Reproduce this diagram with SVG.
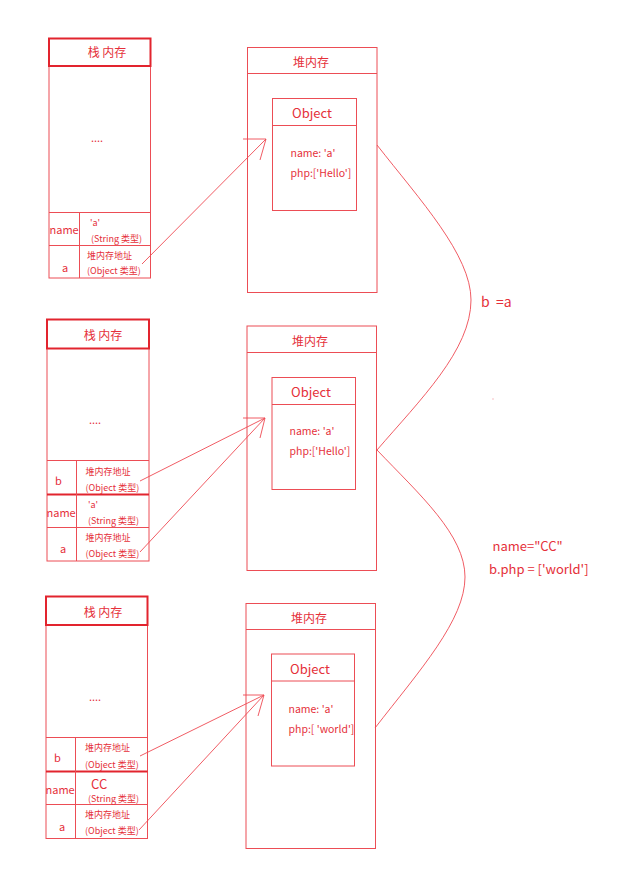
<svg xmlns="http://www.w3.org/2000/svg" width="630" height="878" viewBox="0 0 630 878">
  <style>
    .box { fill: none; stroke: #ec4d55; stroke-width: 1; }
    .hdr { fill: none; stroke: #e2242e; stroke-width: 2; }
    .ln { fill: none; stroke: #ee4a52; stroke-width: 0.9; }
    text { fill: #e5303a; font-family: "Microsoft YaHei", "Noto Sans CJK SC", "Liberation Sans", sans-serif; }
    .s9 { font-size: 9px; }
    .s10 { font-size: 10.5px; }
    .s11 { font-size: 11px; }
    .s12 { font-size: 12px; }
    .s13 { font-size: 13px; }
    .s14 { font-size: 14px; }
    .mid { text-anchor: middle; }
  </style>
  <rect width="630" height="878" fill="#ffffff"/>

  <!-- Stack frame 1 -->
  <g id="stack1">
    <rect class="box" x="49" y="38.5" width="101.5" height="239.5"/>
    <rect class="hdr" x="49" y="38.5" width="101.5" height="27.5"/>
    <text class="s12 mid" x="107" y="57">栈 内存</text>
    <text class="s11 mid" x="97" y="142">....</text>
    <line class="box" x1="49" y1="212.5" x2="150.5" y2="212.5"/>
    <line class="box" x1="49" y1="245.5" x2="150.5" y2="245.5"/>
    <line class="box" x1="79.5" y1="212.5" x2="79.5" y2="278"/>
    <text class="s11" x="49.5" y="234">name</text>
    <text class="s9" x="90" y="226">'a'</text>
    <text class="s9" x="91" y="242">(String 类型)</text>
    <text class="s11" x="62" y="272">a</text>
    <text class="s9" x="87" y="259">堆内存地址</text>
    <text class="s9" x="87" y="274">(Object 类型)</text>
  </g>

  <!-- Heap 1 -->
  <g id="heap1">
    <rect class="box" x="247.5" y="47.5" width="129.5" height="245"/>
    <line class="box" x1="247.5" y1="73.5" x2="377" y2="73.5"/>
    <text class="s12 mid" x="311" y="67">堆内存</text>
    <rect class="box" x="272.5" y="98.5" width="84" height="112"/>
    <line class="box" x1="272.5" y1="125.5" x2="356.5" y2="125.5"/>
    <text class="s13 mid" x="312" y="118">Object</text>
    <text class="s10" x="290.5" y="157">name: 'a'</text>
    <text class="s10" x="290.5" y="177">php:['Hello']</text>
  </g>

  <!-- Stack frame 2 -->
  <g id="stack2">
    <rect class="box" x="47" y="319.5" width="102" height="241.5"/>
    <rect class="hdr" x="47" y="319.5" width="102" height="29"/>
    <text class="s12 mid" x="103" y="340">栈 内存</text>
    <text class="s11 mid" x="95" y="424">....</text>
    <line class="box" x1="47" y1="460.5" x2="149" y2="460.5"/>
    <line class="hdr" x1="47" y1="494.5" x2="149" y2="494.5"/>
    <line class="box" x1="47" y1="527.5" x2="149" y2="527.5"/>
    <line class="box" x1="76.5" y1="460.5" x2="76.5" y2="561"/>
    <text class="s11" x="55" y="485">b</text>
    <text class="s9" x="85.5" y="475">堆内存地址</text>
    <text class="s9" x="85.5" y="491">(Object 类型)</text>
    <text class="s11" x="46.5" y="517">name</text>
    <text class="s9" x="88" y="508">'a'</text>
    <text class="s9" x="88" y="524">(String 类型)</text>
    <text class="s11" x="60" y="553">a</text>
    <text class="s9" x="85.5" y="541">堆内存地址</text>
    <text class="s9" x="85.5" y="557">(Object 类型)</text>
  </g>

  <!-- Heap 2 -->
  <g id="heap2">
    <rect class="box" x="247" y="326" width="129.5" height="244.5"/>
    <line class="box" x1="247" y1="352.5" x2="376.5" y2="352.5"/>
    <text class="s12 mid" x="310" y="346">堆内存</text>
    <rect class="box" x="272" y="377.5" width="83.5" height="112"/>
    <line class="box" x1="272" y1="404.5" x2="355.5" y2="404.5"/>
    <text class="s13 mid" x="311" y="397">Object</text>
    <text class="s10" x="289.5" y="435">name: 'a'</text>
    <text class="s10" x="289.5" y="455">php:['Hello']</text>
  </g>

  <!-- Stack frame 3 -->
  <g id="stack3">
    <rect class="box" x="46" y="596.5" width="101.5" height="242"/>
    <rect class="hdr" x="46" y="596.5" width="101.5" height="28.5"/>
    <text class="s12 mid" x="103" y="617">栈 内存</text>
    <text class="s11 mid" x="95" y="701">....</text>
    <line class="box" x1="46" y1="737.5" x2="147.5" y2="737.5"/>
    <line class="hdr" x1="46" y1="771.5" x2="147.5" y2="771.5"/>
    <line class="box" x1="46" y1="804.5" x2="147.5" y2="804.5"/>
    <line class="box" x1="75.5" y1="737.5" x2="75.5" y2="838.5"/>
    <text class="s11" x="54" y="762">b</text>
    <text class="s9" x="85" y="751">堆内存地址</text>
    <text class="s9" x="85" y="768">(Object 类型)</text>
    <text class="s11" x="45.5" y="794">name</text>
    <text class="s13" x="91" y="789">CC</text>
    <text class="s9" x="88" y="802">(String 类型)</text>
    <text class="s11" x="59" y="831">a</text>
    <text class="s9" x="85" y="818">堆内存地址</text>
    <text class="s9" x="85" y="834">(Object 类型)</text>
  </g>

  <!-- Heap 3 -->
  <g id="heap3">
    <rect class="box" x="246" y="603.5" width="129.5" height="245"/>
    <line class="box" x1="246" y1="629.5" x2="375.5" y2="629.5"/>
    <text class="s12 mid" x="309" y="623">堆内存</text>
    <rect class="box" x="271.5" y="654" width="83" height="112"/>
    <line class="box" x1="271.5" y1="681" x2="354.5" y2="681"/>
    <text class="s13 mid" x="310" y="674">Object</text>
    <text class="s10" x="288.5" y="713">name: 'a'</text>
    <text class="s10" x="288.5" y="733">php:[ 'world']</text>
  </g>

  <!-- Assignment notes -->
  <g id="notes">
    <text class="s14" x="481" y="307" xml:space="preserve">b  =a</text>
    <rect x="492.5" y="398.5" width="1" height="1" fill="#f08088"/>
    <text class="s13" x="492.5" y="551">name="CC"</text>
    <text class="s13" x="489" y="574">b.php = ['world']</text>
  </g>

  <!-- Connectors: stack references to heap objects, and transitions -->
  <g id="connectors">
    <!-- frame 1 -->
    <line class="ln" x1="142" y1="264" x2="266" y2="139"/>
    <line class="ln" x1="243" y1="139" x2="266" y2="139"/>
    <line class="ln" x1="266" y1="139" x2="260" y2="160"/>
    <!-- frame 2 -->
    <line class="ln" x1="140" y1="481" x2="265" y2="418"/>
    <line class="ln" x1="140" y1="552" x2="265" y2="418"/>
    <line class="ln" x1="243" y1="418" x2="265" y2="418"/>
    <line class="ln" x1="265" y1="418" x2="260" y2="438"/>
    <!-- frame 3 -->
    <line class="ln" x1="140" y1="756" x2="264" y2="695"/>
    <line class="ln" x1="139" y1="830" x2="264" y2="695"/>
    <line class="ln" x1="243" y1="695" x2="264" y2="695"/>
    <line class="ln" x1="264" y1="695" x2="258" y2="716"/>
    <!-- heap transitions -->
    <path class="ln" d="M377,145 C420,200 471,255 471,300 C471,350 420,400 377,450"/>
    <path class="ln" d="M377,450 C420,495 465,535 465,577 C465,620 420,670 375,728"/>
  </g>
</svg>
